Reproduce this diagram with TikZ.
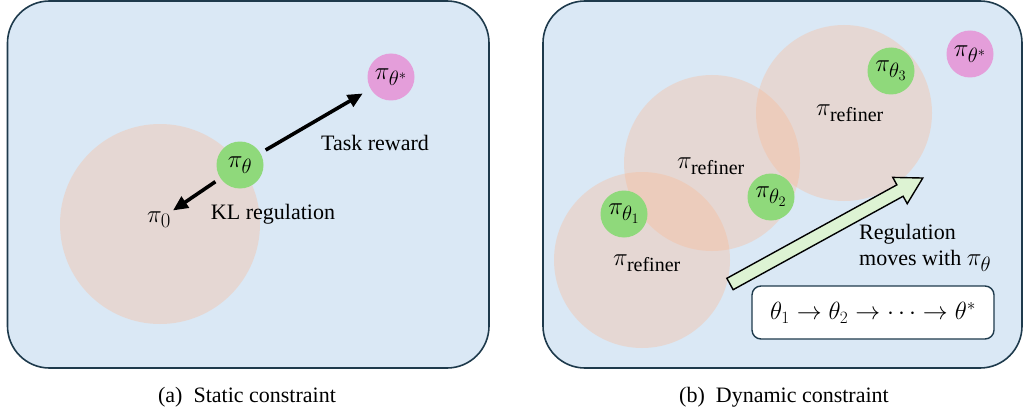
\documentclass[tikz,border=0pt]{standalone}
\usepackage{fontspec}
\setmainfont{Liberation Serif}
\usetikzlibrary{arrows.meta}
\DeclareMathSizes{27}{27}{20}{15}
\DeclareMathSizes{24}{24}{18}{13}
\definecolor{panelbg}{HTML}{DAE8F5}
\definecolor{panelline}{HTML}{1E3A4C}
\definecolor{peach}{HTML}{FFB387}
\definecolor{greenc}{HTML}{8FD97B}
\definecolor{pinkc}{HTML}{E49EDA}
\definecolor{arrowfill}{HTML}{DDF3D3}
\tikzset{
  panel/.style={draw=panelline, fill=panelbg, line width=1.6pt, rounded corners=42pt},
  region/.style={circle, fill=peach, fill opacity=0.3, minimum size=176pt, inner sep=0pt},
  bigregion/.style={region, minimum size=200pt},
  mathfont/.style={font=\fontsize{27}{32}\selectfont},
  policy/.style={circle, fill=greenc, minimum size=47pt, inner sep=0pt, mathfont},
  target/.style={circle, fill=pinkc, minimum size=47pt, inner sep=0pt, mathfont},
  lbl/.style={font=\fontsize{22}{26}\selectfont, inner sep=1pt},
  mlbl/.style={mathfont, inner sep=1pt},
  push/.style={-{Triangle[length=15pt,width=13pt]}, line width=3.6pt},
}
\begin{document}
\begin{tikzpicture}[x=1pt,y=-1pt]
\useasboundingbox (0,0) rectangle (1024,417);
% ---------- panel (a)
\draw[panel] (7.5,1) rectangle (489,368);
\node[bigregion] (kl) at (160,224) {};
\node[target] (tstar) at (391,77) {$\pi_{\theta^*}$};
\node[policy] (th) at (240,165) {$\pi_\theta$};
\node[mlbl] (pi0) at (159,220) {$\pi_0$};
\draw[push, shorten <=6pt, shorten >=9pt] (th) -- (tstar);
\draw[push, shorten <=6pt, shorten >=1pt] (th) -- (pi0.north east);
\node[lbl] (task) at (375,143) {Task reward};
\node[lbl] (klreg) at (273,214) {KL regulation};
\node[lbl] (capa) at (247,397) {(a)\hspace{0.5em}Static constraint};
% ---------- panel (b)
\draw[panel] (543,1) rectangle (1022,368);
\node[region] (r1) at (642,260) {};
\node[region] (r2) at (712,163) {};
\node[region] (r3) at (844,113) {};
\node[policy] (t1) at (624,214) {$\pi_{\theta_1}$};
\node[policy] (t2) at (771,197) {$\pi_{\theta_2}$};
\node[policy] (t3) at (891,71) {$\pi_{\theta_3}$};
\node[target] (tstarb) at (970,54) {$\pi_{\theta^*}$};
\node[mlbl] (rf1) at (647,263) {$\pi_{\mathrm{refiner}}$};
\node[mlbl] (rf2) at (711,166) {$\pi_{\mathrm{refiner}}$};
\node[mlbl] (rf3) at (850,113) {$\pi_{\mathrm{refiner}}$};
\begin{scope}[shift={(730,284)}, rotate=28.8]
  \draw[fill=arrowfill, line width=1.4pt, line join=miter]
    (0,-6.5) -- (194,-6.5) -- (194,-15) -- (220,0) -- (194,15) -- (194,6.5) -- (0,6.5) -- cycle;
\end{scope}
\node[lbl, anchor=west, align=left] (moves) at (858,248) {Regulation\\moves with {\fontsize{27}{26}\selectfont$\pi_\theta$}};
\node[draw=panelline, line width=1.4pt, fill=white, rounded corners=9pt, minimum width=242pt, minimum height=53pt, font=\fontsize{24}{28}\selectfont] (seq) at (873,312.5) {$\theta_1 \to \theta_2 \to \cdots \to \theta^*$};
\node[lbl] (capb) at (784,397) {(b)\hspace{0.5em}Dynamic constraint};
\end{tikzpicture}
\end{document}
